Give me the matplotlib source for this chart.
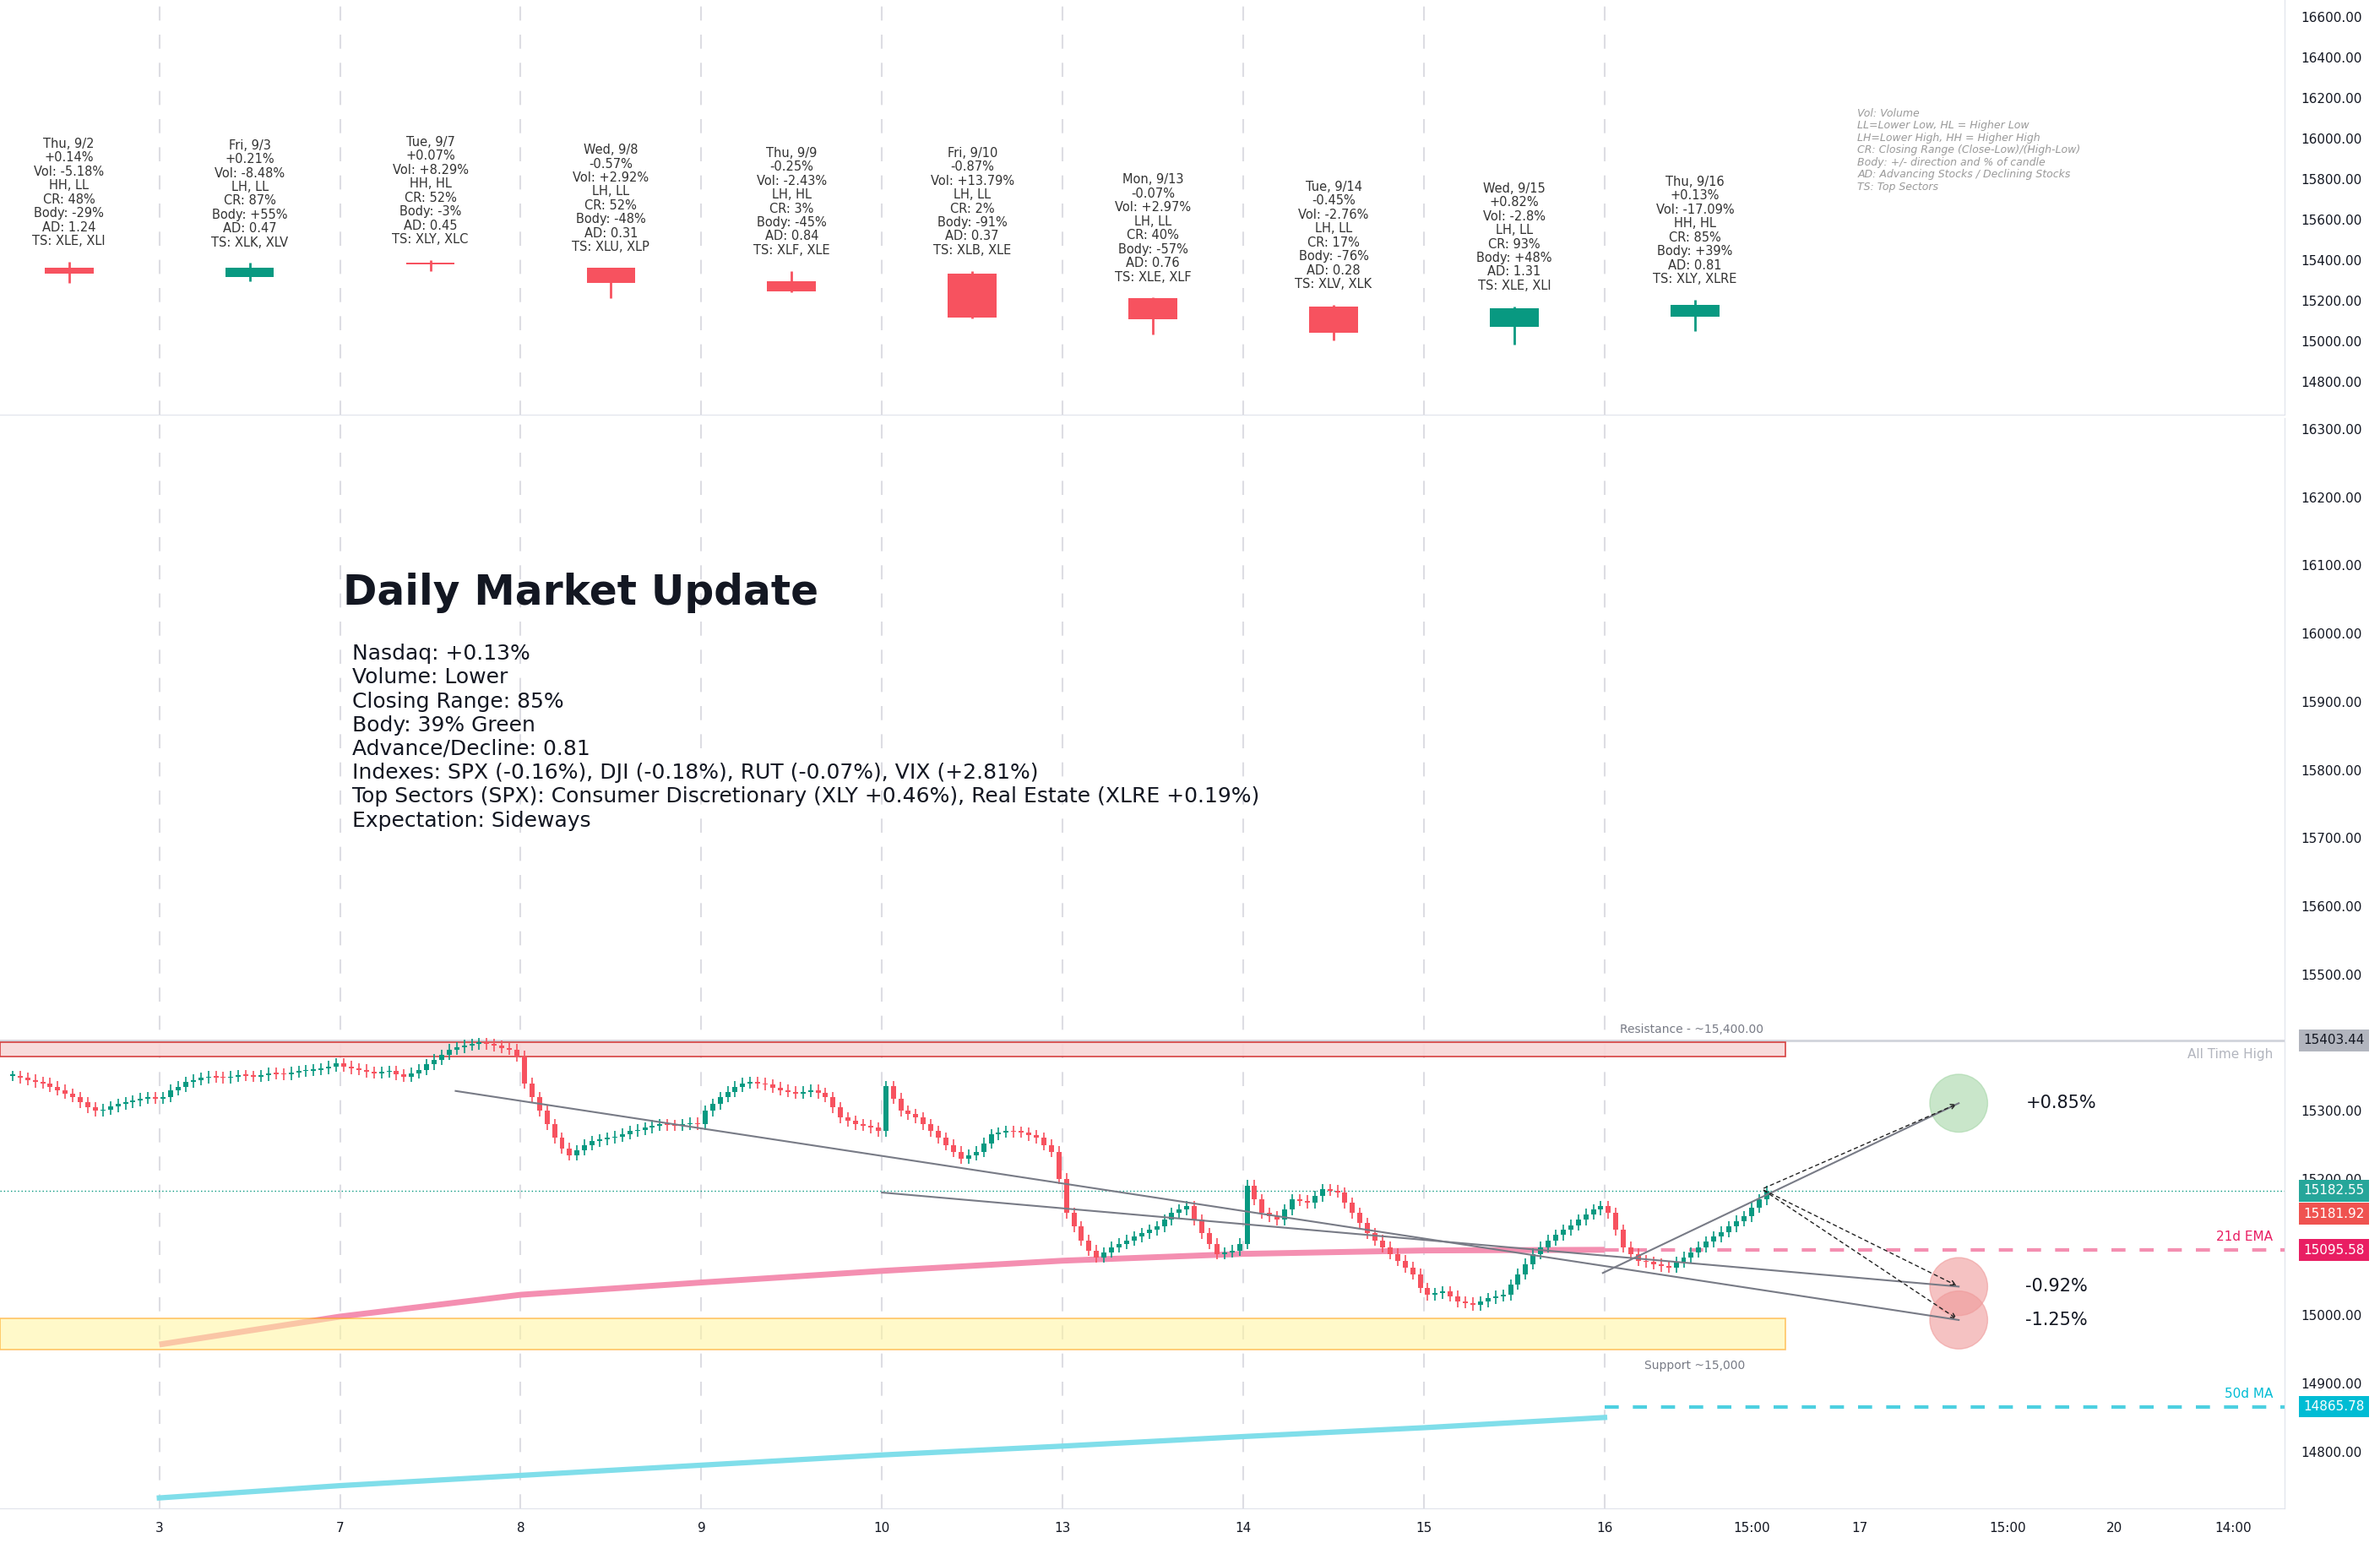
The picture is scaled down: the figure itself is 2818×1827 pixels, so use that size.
import matplotlib
matplotlib.use("Agg")
import matplotlib.pyplot as plt
import matplotlib.transforms as mtransforms
from matplotlib.patches import Rectangle, Ellipse
import numpy as np

# ---------------- data ----------------
day_ticks = [0, 1, 2, 3, 4, 5, 6, 7, 8, 8.815, 9.41, 10.23, 10.82, 11.48]
day_tick_labels = ["3", "7", "8", "9", "10", "13", "14", "15", "16", "15:00", "17", "15:00", "20", "14:00"]

# daily candles (top pane)
daily_dates = ["Thu, 9/2", "Fri, 9/3", "Tue, 9/7", "Wed, 9/8", "Thu, 9/9", "Fri, 9/10",
               "Mon, 9/13", "Tue, 9/14", "Wed, 9/15", "Thu, 9/16"]
daily_open = [15362, 15317, 15385, 15362, 15295, 15332, 15210, 15168, 15072, 15118]
daily_close = [15332, 15362, 15377, 15287, 15246, 15115, 15107, 15040, 15160, 15180]
daily_high = [15392, 15385, 15400, 15362, 15347, 15347, 15215, 15180, 15172, 15205]
daily_low = [15287, 15295, 15347, 15210, 15240, 15110, 15032, 15005, 14983, 15048]
daily_pct = ["+0.14%", "+0.21%", "+0.07%", "-0.57%", "-0.25%", "-0.87%", "-0.07%", "-0.45%", "+0.82%", "+0.13%"]
daily_vol = ["-5.18%", "-8.48%", "+8.29%", "+2.92%", "-2.43%", "+13.79%", "+2.97%", "-2.76%", "-2.8%", "-17.09%"]
daily_hl = ["HH, LL", "LH, LL", "HH, HL", "LH, LL", "LH, HL", "LH, LL", "LH, LL", "LH, LL", "LH, LL", "HH, HL"]
daily_cr = ["48%", "87%", "52%", "52%", "3%", "2%", "40%", "17%", "93%", "85%"]
daily_body = ["-29%", "+55%", "-3%", "-48%", "-45%", "-91%", "-57%", "-76%", "+48%", "+39%"]
daily_ad = ["1.24", "0.47", "0.45", "0.31", "0.84", "0.37", "0.76", "0.28", "1.31", "0.81"]
daily_ts = ["XLE, XLI", "XLK, XLV", "XLY, XLC", "XLU, XLP", "XLF, XLE", "XLB, XLE",
            "XLE, XLF", "XLV, XLK", "XLE, XLI", "XLY, XLRE"]

# intraday closes per session (main pane)
pre_closes = [15351, 15348, 15345, 15342, 15340, 15335, 15330, 15325, 15320, 15312, 15305, 15300,
              15302, 15306, 15310, 15312, 15315, 15318, 15320, 15318]
session_closes = [
    [15320, 15330, 15335, 15342, 15345, 15348, 15350, 15349, 15348, 15350, 15352, 15351, 15350, 15352,
     15355, 15354, 15353, 15356, 15358, 15359, 15360, 15362, 15365, 15369],
    [15365, 15362, 15360, 15357, 15355, 15357, 15358, 15353, 15350, 15355, 15360, 15368, 15375, 15382,
     15390, 15393, 15396, 15398, 15399, 15398, 15395, 15392, 15390, 15380],
    [15340, 15320, 15300, 15280, 15260, 15245, 15235, 15242, 15250, 15255, 15258, 15260, 15262, 15266,
     15270, 15272, 15275, 15278, 15280, 15279, 15278, 15280, 15282, 15280],
    [15300, 15310, 15320, 15328, 15335, 15340, 15342, 15340, 15338, 15334, 15330, 15328, 15325, 15328,
     15330, 15326, 15320, 15305, 15290, 15285, 15280, 15278, 15275, 15270],
    [15336, 15318, 15300, 15295, 15290, 15280, 15270, 15260, 15250, 15240, 15230, 15235, 15240, 15252,
     15265, 15268, 15270, 15269, 15268, 15264, 15260, 15250, 15240, 15200],
    [15150, 15130, 15110, 15095, 15085, 15092, 15100, 15105, 15110, 15115, 15120, 15125, 15130, 15140,
     15150, 15155, 15160, 15140, 15120, 15105, 15090, 15092, 15095, 15105],
    [15190, 15170, 15150, 15145, 15140, 15155, 15170, 15168, 15165, 15175, 15185, 15183, 15180, 15165,
     15150, 15135, 15120, 15110, 15100, 15090, 15080, 15070, 15060, 15040],
    [15030, 15032, 15035, 15028, 15020, 15018, 15015, 15020, 15025, 15028, 15030, 15045, 15060, 15075,
     15090, 15100, 15110, 15118, 15125, 15132, 15140, 15148, 15155, 15160],
    [15150, 15125, 15100, 15090, 15080, 15078, 15075, 15072, 15070, 15078, 15085, 15092, 15100, 15108,
     15115, 15122, 15130, 15138, 15145, 15158, 15170, 15182],
]
ema_days = [0, 1, 2, 3, 4, 5, 6, 7, 8]
ema_vals = [14957, 14998, 15030, 15048, 15065, 15080, 15090, 15095, 15096]
ma50_vals = [14732, 14750, 14765, 14780, 14795, 14808, 14822, 14835, 14850]

ath = 15403.44
last_price = 15182.55
prev_price = 15181.92
ema21 = 15095.58
ma50 = 14865.78
target_up, target_mid, target_low = 15311, 15042, 14993
target_labels = ["+0.85%", "-0.92%", "-1.25%"]

info_lines = [
    "Nasdaq: +0.13%",
    "Volume: Lower",
    "Closing Range: 85%",
    "Body: 39% Green",
    "Advance/Decline: 0.81",
    "Indexes: SPX (-0.16%), DJI (-0.18%), RUT (-0.07%), VIX (+2.81%)",
    "Top Sectors (SPX): Consumer Discretionary (XLY +0.46%), Real Estate (XLRE +0.19%)",
    "Expectation: Sideways",
]
legend_lines = [
    "Vol: Volume",
    "LL=Lower Low, HL = Higher Low",
    "LH=Lower High, HH = Higher High",
    "CR: Closing Range (Close-Low)/(High-Low)",
    "Body: +/- direction and % of candle",
    "AD: Advancing Stocks / Declining Stocks",
    "TS: Top Sectors",
]

GREEN = "#089981"
RED = "#f7525f"
GRID = "#dddde3"
BARS_PER_DAY = 24

fig = plt.figure(figsize=(28.18, 18.27), dpi=100)
ax_top = fig.add_axes([0, 0.731, 0.96, 0.269])
ax = fig.add_axes([0, 0.0226, 0.96, 0.7064], sharex=ax_top)
xlim = (-0.882, 11.765)

for a in (ax_top, ax):
    for s in ("left", "top"):
        a.spines[s].set_visible(False)
    a.spines["right"].set_color("#e0e3eb")
    a.spines["bottom"].set_color("#e0e3eb")
    a.yaxis.tick_right()
    a.tick_params(axis="y", length=0, labelsize=11, colors="#131722", pad=14)
    a.tick_params(axis="x", length=0)
    for d in range(9):
        a.axvline(d, color=GRID, lw=1.5, ls=(0, (8, 8)), zorder=0)

# ---------------- top pane ----------------
ax_top.set_xlim(*xlim)
ax_top.set_ylim(14635, 16682)
ax_top.set_yticks(np.arange(14800, 16601, 200))
ax_top.set_yticklabels([f"{v:.2f}" for v in np.arange(14800, 16601, 200)])
ax_top.tick_params(axis="x", labelbottom=False)
for i in range(len(daily_dates)):
    xc = i - 0.5
    o, c, h, l = daily_open[i], daily_close[i], daily_high[i], daily_low[i]
    col = GREEN if c >= o else RED
    ax_top.vlines(xc, l, h, color=col, lw=2, zorder=3)
    ax_top.bar(xc, max(abs(c - o), 8), bottom=min(o, c), width=0.27, color=col, zorder=4)
    txt = "\n".join([daily_dates[i], daily_pct[i], "Vol: " + daily_vol[i], daily_hl[i],
                     "CR: " + daily_cr[i], "Body: " + daily_body[i], "AD: " + daily_ad[i],
                     "TS: " + daily_ts[i]])
    ax_top.annotate(txt, (xc, h), xytext=(0, 12), textcoords="offset points",
                    ha="center", va="bottom", fontsize=10.5, color="#333333", linespacing=1.12)
ax_top.text(0.813, 0.74, "\n".join(legend_lines), transform=ax_top.transAxes, ha="left", va="top",
            fontsize=9, style="italic", color="#9a9a9a", linespacing=1.15)

# ---------------- main pane ----------------
ax.set_xlim(*xlim)
ax.set_ylim(14717, 16316)
yt = np.arange(14800, 16301, 100)
ax.set_yticks(yt)
ax.set_yticklabels([f"{v:.2f}" for v in yt])
ax.set_xticks(day_ticks)
ax.set_xticklabels(day_tick_labels, fontsize=11, color="#131722")
ax.tick_params(axis="x", pad=12)

# moving averages
ax.plot(ema_days, ema_vals, color="#f48fb1", lw=5, zorder=2, solid_capstyle="butt")
ax.plot([8, xlim[1]], [ema21, ema21], color="#f48fb1", lw=3, ls=(0, (4, 4)), zorder=2)
ax.plot(ema_days, ma50_vals, color="#80deea", lw=4.5, zorder=2)
ax.plot([8, xlim[1]], [ma50, ma50], color="#4dd0e1", lw=3, ls=(0, (4, 4)), zorder=2)

# zones
ax.add_patch(Rectangle((xlim[0], 15380), 9.0 - xlim[0], 20, facecolor="#f8d7d7", edgecolor="#d32f2f",
                       lw=1.2, alpha=0.9, zorder=3))
ax.add_patch(Rectangle((xlim[0], 14950), 9.0 - xlim[0], 45, facecolor="#fff59d", edgecolor="#ff9800",
                       lw=1.2, alpha=0.55, zorder=3))
ax.axhline(ath, color="#d1d4dc", lw=2, zorder=1)
ax.axhline(last_price, color=GREEN, lw=1, ls=(0, (1, 2)), zorder=1)

# intraday candles
prev = pre_closes[0]
segments = [(-1, BARS_PER_DAY - len(pre_closes), pre_closes)] + [(d, 0, cl) for d, cl in enumerate(session_closes)]
for d, start, closes in segments:
    for k, c in enumerate(closes):
        xc = d + (start + k + 0.5) / BARS_PER_DAY
        o = prev
        col = GREEN if c >= o else RED
        ax.vlines(xc, min(o, c) - 8, max(o, c) + 8, color=col, lw=1.2, zorder=5)
        ax.bar(xc, max(abs(c - o), 2), bottom=min(o, c), width=0.028, color=col, zorder=6)
        prev = c

# trend lines
ax.plot([1.64, 9.96], [15329, target_low], color="#787b86", lw=1.5, zorder=7)
ax.plot([4.0, 9.96], [15180, target_mid], color="#787b86", lw=1.5, zorder=7)
ax.plot([7.99, 9.96], [15062, target_up], color="#787b86", lw=1.5, zorder=7)
for ty in (target_up, target_mid, target_low):
    ax.annotate("", xy=(9.96, ty), xytext=(8.87, 15185),
                arrowprops=dict(arrowstyle="->", ls=(0, (3, 3)), color="#222222", lw=1), zorder=8)

for ty, fc in ((target_up, "#a5d6a7"), (target_mid, "#ef9a9a"), (target_low, "#ef9a9a")):
    ax.add_patch(Ellipse((9.96, ty), 0.32, 85, facecolor=fc, edgecolor=fc, alpha=0.6, zorder=6))
for ty, lab in zip((target_up, target_mid, target_low), target_labels):
    ax.text(10.33, ty, lab, fontsize=15, color="#131722", va="center", ha="left")

ax.text(8.48, 15410, "Resistance - ~15,400.00", fontsize=10, color="#787b86", ha="center", va="bottom")
ax.text(8.5, 14935, "Support ~15,000", fontsize=10, color="#787b86", ha="center", va="top")
ax.text(11.7, ath - 12, "All Time High", fontsize=11, color="#b2b5be", ha="right", va="top")
ax.text(11.7, ema21 + 10, "21d EMA", fontsize=11, color="#e91e63", ha="right", va="bottom")
ax.text(11.7, ma50 + 10, "50d MA", fontsize=11, color="#00bcd4", ha="right", va="bottom")

trans = mtransforms.blended_transform_factory(ax.transAxes, ax.transData)
for yv, lab, fc, dy in ((ath, f"{ath:.2f}", "#b2b5be", 0), (last_price, f"{last_price:.2f}", "#26a69a", 0),
                        (prev_price, f"{prev_price:.2f}", "#ef5350", -33),
                        (ema21, f"{ema21:.2f}", "#e91e63", 0), (ma50, f"{ma50:.2f}", "#00bcd4", 0)):
    ax.text(1.008, yv + dy, lab, transform=trans, fontsize=11, color="#131722" if fc == "#b2b5be" else "white",
            va="center", ha="left", zorder=10, clip_on=False,
            bbox=dict(boxstyle="square,pad=0.35", facecolor=fc, edgecolor="none"))

ax.text(0.150, 0.84, "Daily Market Update", transform=ax.transAxes, fontsize=35, fontweight="bold",
        color="#131722", ha="left", va="center")
ax.text(0.154, 0.793, "\n".join(info_lines), transform=ax.transAxes, fontsize=18, color="#131722",
        ha="left", va="top", linespacing=1.22)

fig.savefig("out.png", dpi=100, facecolor="white")
